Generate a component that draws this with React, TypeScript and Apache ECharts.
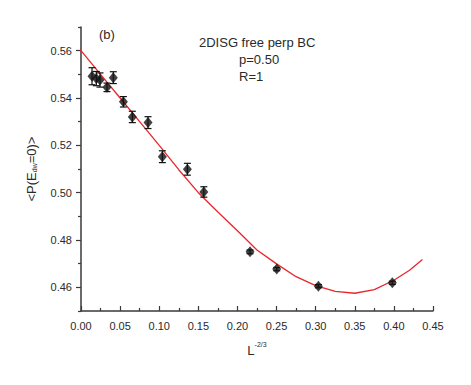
import React, { useEffect, useRef } from "react";
import * as echarts from "echarts";

// Measured data points: x = L^{-2/3}, y = <P(E_dw=0)>, yErr = half error bar
const xData = [0.0141, 0.0196, 0.0243, 0.0332, 0.0413, 0.0542, 0.0656, 0.0857, 0.104, 0.136, 0.157, 0.2161, 0.2502, 0.3035, 0.398];
const yData = [0.5492, 0.5482, 0.5476, 0.5445, 0.5486, 0.5384, 0.532, 0.5296, 0.5152, 0.5099, 0.5003, 0.475, 0.4677, 0.4605, 0.4619];
const yErr = [0.0036, 0.003, 0.003, 0.0018, 0.0025, 0.0022, 0.0024, 0.0025, 0.0025, 0.0025, 0.0022, 0.0008, 0.0007, 0.0007, 0.0007];

// Fit curve
const fitX = [-0.0226, 0, 0.025, 0.05, 0.075, 0.1, 0.125, 0.15, 0.175, 0.2, 0.225, 0.25, 0.275, 0.3, 0.325, 0.35, 0.375, 0.4, 0.42, 0.4365];
const fitY = [0.5688, 0.56, 0.55, 0.54, 0.53, 0.52, 0.5097, 0.5, 0.4918, 0.4839, 0.4758, 0.4699, 0.4645, 0.4607, 0.4583, 0.4575, 0.459, 0.463, 0.4672, 0.4718];

const yMajor = [0.46, 0.48, 0.5, 0.52, 0.54, 0.56];
const yMinor = [0.45, 0.47, 0.49, 0.51, 0.53, 0.55, 0.57];

const FONT = "'Liberation Sans', Arial, sans-serif";
const AXIS = "#3a3a3a";
const TXT = "#2a2a2a";

export default function App() {
  const ref = useRef<HTMLDivElement>(null);
  useEffect(() => {
    document.body.style.margin = "0";
    if (!ref.current) return;
    const chart = echarts.init(ref.current, null, { renderer: "svg" });
    const option: any = {
      animation: false,
      backgroundColor: "#ffffff",
      textStyle: { fontFamily: FONT },
      grid: { left: 81, top: 27, right: 38, bottom: 74, containLabel: false },
      xAxis: {
        type: "value",
        min: 0,
        max: 0.45,
        interval: 0.05,
        axisLine: { show: true, onZero: false, lineStyle: { color: AXIS, width: 1.5 } },
        axisTick: { show: true, inside: true, length: 5, lineStyle: { color: AXIS, width: 1.2 } },
        minorTick: { show: true, splitNumber: 2, length: 3, lineStyle: { color: AXIS, width: 1.2 } },
        splitLine: { show: false },
        axisLabel: {
          color: TXT,
          fontSize: 11,
          fontFamily: FONT,
          margin: 9,
          formatter: (v: number) => v.toFixed(2),
        },
        name: "{m|L}{s|-2/3}",
        nameLocation: "middle",
        nameGap: 30,
        nameTextStyle: {
          rich: {
            m: { fontSize: 13, color: TXT, fontFamily: FONT, verticalAlign: "bottom", lineHeight: 16 },
            s: { fontSize: 7, color: TXT, fontFamily: FONT, verticalAlign: "top", lineHeight: 16 },
          },
        },
      },
      yAxis: [
        {
          type: "value",
          min: 0.45,
          max: 0.57,
          interval: 0.01,
          axisLine: { show: true, onZero: false, lineStyle: { color: AXIS, width: 1.5 } },
          axisTick: { show: true, inside: false, length: 5, customValues: yMajor, lineStyle: { color: AXIS, width: 1.2 } },
          splitLine: { show: false },
          axisLabel: {
            color: TXT,
            fontSize: 11,
            fontFamily: FONT,
            margin: 9,
            customValues: yMajor,
            formatter: (v: number) => v.toFixed(2),
          },
          name: "<P(E{s|dw}=0)>",
          nameLocation: "middle",
          nameGap: 43,
          nameRotate: 90,
          nameTextStyle: {
            fontSize: 13,
            color: TXT,
            fontFamily: FONT,
            rich: {
              s: { fontSize: 7, color: TXT, fontFamily: FONT, verticalAlign: "bottom", padding: [6, 0, 0, 0] },
            },
          },
        },
        {
          type: "value",
          min: 0.45,
          max: 0.57,
          interval: 0.01,
          position: "left",
          axisLine: { show: false },
          axisTick: { show: true, inside: false, length: 3, customValues: yMinor, lineStyle: { color: AXIS, width: 1.2 } },
          axisLabel: { show: false },
          splitLine: { show: false },
        },
      ],
      graphic: [
        { type: "text", left: 99, top: 28, style: { text: "(b)", font: `13px ${FONT}`, fill: TXT } },
        { type: "text", left: 199, top: 36, style: { text: "2DISG free perp BC", font: `13px ${FONT}`, fill: TXT } },
        { type: "text", left: 239, top: 53, style: { text: "p=0.50", font: `13px ${FONT}`, fill: TXT } },
        { type: "text", left: 239, top: 70, style: { text: "R=1", font: `13px ${FONT}`, fill: TXT } },
      ],
      series: [
        {
          type: "line",
          data: fitX.map((x, i) => [x, fitY[i]]),
          showSymbol: false,
          clip: false,
          lineStyle: { color: "#e8262b", width: 1.3 },
          z: 2,
        },
        {
          type: "custom",
          data: xData.map((x, i) => [x, yData[i], yErr[i]]),
          encode: { x: 0, y: 1 },
          z: 3,
          renderItem: (params: any, api: any) => {
            const x = api.value(0);
            const y = api.value(1);
            const e = api.value(2);
            const top = api.coord([x, y + e]);
            const bot = api.coord([x, y - e]);
            const hw = 3.5;
            const st = { stroke: "#111", lineWidth: 1.2 };
            return {
              type: "group",
              children: [
                { type: "line", shape: { x1: top[0], y1: top[1], x2: bot[0], y2: bot[1] }, style: st },
                { type: "line", shape: { x1: top[0] - hw, y1: top[1], x2: top[0] + hw, y2: top[1] }, style: st },
                { type: "line", shape: { x1: bot[0] - hw, y1: bot[1], x2: bot[0] + hw, y2: bot[1] }, style: st },
              ],
            };
          },
        },
        {
          type: "scatter",
          data: xData.map((x, i) => [x, yData[i]]),
          symbol: "diamond",
          symbolSize: [9, 11],
          itemStyle: { color: "#111111" },
          z: 4,
        },
      ],
    };
    chart.setOption(option);
    return () => chart.dispose();
  }, []);
  return <div ref={ref} style={{ width: 471, height: 385 }} />;
}
